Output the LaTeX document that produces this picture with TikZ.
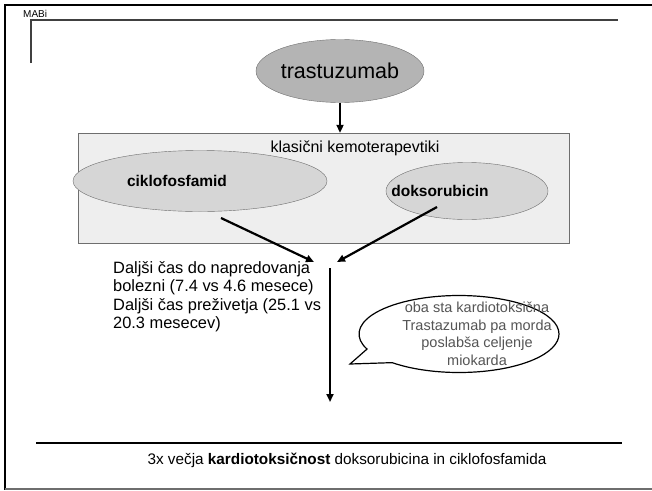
\documentclass[tikz,border=0pt]{standalone}
\usepackage{fontspec}
\setmainfont{Liberation Sans}
\usetikzlibrary{positioning,arrows.meta,calc,shapes.geometric,shapes.callouts}
\definecolor{FrameGray}{RGB}{110,110,110}
\definecolor{DrugGray}{RGB}{180,180,180}
\definecolor{LightDrug}{RGB}{214,214,214}
\definecolor{BandGray}{RGB}{238,238,238}
\definecolor{NoteGray}{RGB}{85,85,85}

\begin{document}
\begin{tikzpicture}[x=1pt, y=-1pt, every node/.style={font=\fontsize{16}{18.5}\selectfont, align=center, inner sep=0pt}]
  \tikzset{
    drug/.style={draw=FrameGray, ellipse, fill=LightDrug},
    flow/.style={-{Triangle[length=8pt,width=7pt]}, line width=2.2pt}
  }
  \useasboundingbox (0,0) rectangle (652,490);
  % slide frame
  \draw[line width=2pt] (652,5) -- (5,5) -- (5,490);
  \draw[FrameGray, line width=1.5pt] (5,489) -- (652,489);
  \draw[black!75, line width=1.5pt] (31,63) -- (31,20) -- (618,20);
  \node[font=\fontsize{10}{12}\selectfont, anchor=west] (mabi) at (23,14) {MABi};

  \node[drug, fill=DrugGray, minimum width=168pt, minimum height=63pt, font=\fontsize{21.5}{24}\selectfont] (tras) at (340,71) {trastuzumab};
  \node[draw=FrameGray, fill=BandGray, minimum width=491pt, minimum height=110pt] (group) at (323.5,188) {};
  \node[drug, minimum width=254pt, minimum height=61pt] (cyc) at (200,181) {};
  \node[drug, minimum width=162pt, minimum height=57pt] (dox) at (467,191) {};
  \node[font=\bfseries\fontsize{15.5}{18}\selectfont] (cyclabel) at ($(cyc)+(-23,0)$) {ciklofosfamid};
  \node[font=\bfseries\fontsize{15.5}{18}\selectfont] (doxlabel) at ($(dox)+(-27,0)$) {doksorubicin};
  \node (grouplabel) at (355,148) {klasični kemoterapevtiki};
  \draw[flow] (tras) -- (tras |- group.north);

  % merging arrows
  \coordinate (cycout) at (221,218);
  \coordinate (doxout) at (437,207);
  \coordinate (joinl) at (314,262);
  \coordinate (joinr) at (337,262);
  \coordinate (jtop) at (330,268);
  \coordinate (jbot) at (330,402);
  \draw[flow] (cycout) -- (joinl);
  \draw[flow] (doxout) -- (joinr);
  \draw[flow] (jtop) -- (jbot);

  \node[anchor=north west, align=left, font=\fontsize{16.4}{18.6}\selectfont] (gain) at (113,261) {Daljši čas do napredovanja\\bolezni (7.4 vs 4.6 mesece)\\Daljši čas preživetja (25.1 vs\\20.3 mesecev)};

  \node[ellipse callout, draw, line width=1.2pt, fill=white, minimum width=200pt, minimum height=77pt, callout absolute pointer={(350,364)}, callout pointer arc=25] (note) at (459,334) {};
  \node[NoteGray, font=\fontsize{14.5}{17.5}\selectfont] (notetext) at (477,334) {oba sta kardiotoksična\\Trastazumab pa morda\\poslabša celjenje\\miokarda};

  \coordinate (rulel) at (36,443);
  \coordinate (ruler) at (622,443);
  \draw[line width=2pt] (rulel) -- (ruler);
  \node[font=\fontsize{15.3}{18}\selectfont] (summary) at (347,460) {3x večja \textbf{kardiotoksičnost} doksorubicina in ciklofosfamida};
\end{tikzpicture}
\end{document}
